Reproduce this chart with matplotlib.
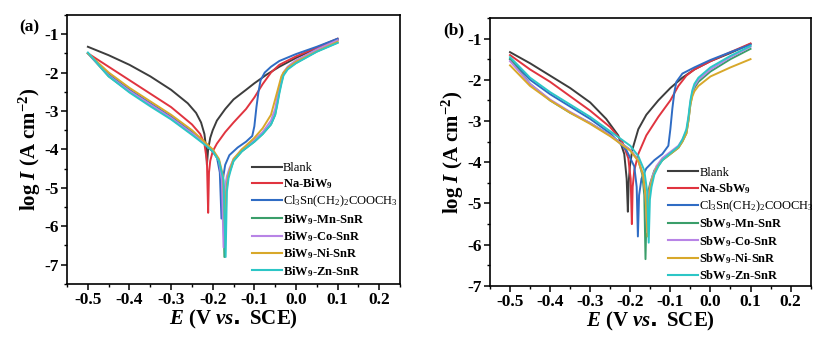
import matplotlib
matplotlib.use('Agg')
import matplotlib.pyplot as plt
from matplotlib.ticker import MultipleLocator

plt.rcParams['font.family'] = ['Liberation Serif', 'DejaVu Serif']
plt.rcParams['font.weight'] = 'bold'
plt.rcParams['mathtext.fontset'] = 'custom'
plt.rcParams['mathtext.default'] = 'regular'
plt.rcParams['mathtext.it'] = 'Liberation Serif:italic:bold'
plt.rcParams['axes.unicode_minus'] = False

# ---- data: potential E (V vs. SCE) and log I ----
# panel (a)
a_blank_E = [-0.5, -0.45, -0.4, -0.35, -0.3, -0.26, -0.24, -0.228, -0.22, -0.216, -0.214, -0.211,
             -0.206, -0.2, -0.19, -0.17, -0.15, -0.12, -0.1, -0.07, -0.04, 0.0, 0.05, 0.1]
a_blank_I = [-1.33, -1.55, -1.8, -2.1, -2.45, -2.8, -3.05, -3.3, -3.6, -3.95, -4.4, -4.0,
             -3.7, -3.5, -3.25, -2.95, -2.7, -2.45, -2.28, -2.05, -1.85, -1.62, -1.38, -1.15]

a_na_E = [-0.5, -0.45, -0.4, -0.35, -0.3, -0.25, -0.23, -0.22, -0.214, -0.211, -0.209, -0.206,
          -0.2, -0.19, -0.17, -0.15, -0.12, -0.1, -0.08, -0.06, -0.04, 0.0, 0.05, 0.1]
a_na_I = [-1.5, -1.85, -2.2, -2.55, -2.9, -3.35, -3.6, -3.85, -4.3, -5.65, -4.6, -4.3,
          -4.05, -3.85, -3.55, -3.3, -2.95, -2.65, -2.3, -2.0, -1.8, -1.58, -1.35, -1.12]

a_cl_E = [-0.5, -0.45, -0.4, -0.35, -0.3, -0.25, -0.22, -0.2, -0.19, -0.183, -0.179, -0.176,
          -0.17, -0.16, -0.14, -0.12, -0.105, -0.1, -0.095, -0.09, -0.085, -0.075, -0.06,
          -0.04, 0.0, 0.05, 0.1]
a_cl_I = [-1.5, -2.05, -2.45, -2.8, -3.15, -3.55, -3.85, -4.05, -4.2, -4.6, -5.8, -4.8,
          -4.4, -4.15, -3.95, -3.8, -3.65, -3.4, -2.9, -2.5, -2.2, -2.0, -1.85,
          -1.7, -1.52, -1.33, -1.12]

a_mn_E = [-0.5, -0.45, -0.4, -0.35, -0.3, -0.25, -0.22, -0.2, -0.185, -0.176, -0.172, -0.169,
          -0.165, -0.16, -0.15, -0.13, -0.1, -0.08, -0.06, -0.05, -0.045, -0.04, -0.035,
          -0.03, -0.02, 0.0, 0.05, 0.1]
a_mn_I = [-1.5, -2.1, -2.5, -2.85, -3.2, -3.6, -3.85, -4.05, -4.3, -4.8, -6.8, -5.2,
          -4.8, -4.6, -4.3, -4.05, -3.8, -3.6, -3.35, -3.1, -2.8, -2.5, -2.25,
          -2.05, -1.9, -1.75, -1.45, -1.22]

a_co_E = [-0.5, -0.45, -0.4, -0.35, -0.3, -0.25, -0.22, -0.2, -0.185, -0.178, -0.174, -0.171,
          -0.166, -0.16, -0.15, -0.13, -0.1, -0.08, -0.06, -0.05, -0.045, -0.04, -0.035,
          -0.03, -0.02, 0.0, 0.05, 0.1]
a_co_I = [-1.5, -2.08, -2.48, -2.83, -3.18, -3.58, -3.83, -4.03, -4.3, -4.8, -6.55, -5.0,
          -4.7, -4.5, -4.25, -4.0, -3.75, -3.55, -3.25, -2.95, -2.65, -2.4, -2.15,
          -2.0, -1.85, -1.68, -1.4, -1.16]

a_ni_E = [-0.5, -0.45, -0.4, -0.35, -0.3, -0.25, -0.22, -0.2, -0.185, -0.175, -0.17, -0.167,
          -0.163, -0.158, -0.15, -0.13, -0.1, -0.08, -0.06, -0.05, -0.04, -0.035,
          -0.03, -0.02, 0.0, 0.05, 0.1]
a_ni_I = [-1.5, -2.0, -2.4, -2.75, -3.1, -3.5, -3.8, -4.0, -4.25, -4.7, -6.3, -5.1,
          -4.7, -4.5, -4.25, -4.0, -3.7, -3.45, -3.1, -2.7, -2.3, -2.1,
          -2.0, -1.88, -1.72, -1.45, -1.2]

a_zn_E = [-0.5, -0.45, -0.4, -0.35, -0.3, -0.25, -0.22, -0.2, -0.185, -0.174, -0.169, -0.166,
          -0.162, -0.157, -0.15, -0.13, -0.1, -0.08, -0.06, -0.05, -0.045, -0.04, -0.035,
          -0.03, -0.02, 0.0, 0.05, 0.1]
a_zn_I = [-1.48, -2.1, -2.52, -2.88, -3.22, -3.62, -3.87, -4.05, -4.3, -4.8, -6.8, -5.1,
          -4.75, -4.55, -4.3, -4.05, -3.8, -3.6, -3.35, -3.1, -2.85, -2.55, -2.3,
          -2.08, -1.92, -1.76, -1.46, -1.23]

# panel (b)
b_blank_E = [-0.5, -0.45, -0.4, -0.35, -0.3, -0.26, -0.23, -0.215, -0.209, -0.206, -0.204, -0.201,
             -0.195, -0.18, -0.16, -0.13, -0.1, -0.07, -0.04, 0.0, 0.05, 0.1]
b_blank_I = [-1.33, -1.6, -1.9, -2.2, -2.55, -2.95, -3.35, -3.8, -4.4, -5.2, -4.5, -4.1,
             -3.7, -3.2, -2.85, -2.5, -2.2, -1.95, -1.75, -1.55, -1.35, -1.13]

b_na_E = [-0.5, -0.45, -0.4, -0.35, -0.3, -0.25, -0.22, -0.205, -0.199, -0.196, -0.194, -0.19,
          -0.18, -0.16, -0.13, -0.1, -0.08, -0.06, -0.04, 0.0, 0.05, 0.1]
b_na_I = [-1.4, -1.75, -2.05, -2.4, -2.75, -3.15, -3.5, -3.9, -4.4, -5.5, -4.6, -4.2,
          -3.8, -3.35, -2.9, -2.5, -2.15, -1.9, -1.75, -1.55, -1.33, -1.12]

b_cl_E = [-0.5, -0.45, -0.4, -0.35, -0.3, -0.25, -0.21, -0.19, -0.184, -0.181, -0.178, -0.172,
          -0.16, -0.14, -0.12, -0.105, -0.1, -0.095, -0.09, -0.085, -0.07, -0.04, 0.0, 0.05, 0.1]
b_cl_I = [-1.5, -2.0, -2.35, -2.65, -2.95, -3.3, -3.7, -4.1, -4.6, -5.8, -4.8, -4.4,
          -4.15, -3.95, -3.8, -3.6, -3.2, -2.7, -2.3, -2.05, -1.85, -1.7, -1.52, -1.33, -1.15]

b_mn_E = [-0.5, -0.45, -0.4, -0.35, -0.3, -0.25, -0.2, -0.18, -0.17, -0.165, -0.162, -0.159,
          -0.155, -0.15, -0.14, -0.12, -0.1, -0.08, -0.07, -0.06, -0.055, -0.05, -0.045,
          -0.04, -0.03, 0.0, 0.05, 0.1]
b_mn_I = [-1.5, -2.1, -2.5, -2.8, -3.05, -3.35, -3.7, -3.95, -4.3, -4.8, -6.35, -5.0,
          -4.7, -4.5, -4.2, -3.95, -3.8, -3.65, -3.5, -3.3, -3.0, -2.6, -2.35,
          -2.2, -2.05, -1.8, -1.5, -1.25]

b_co_E = [-0.5, -0.45, -0.4, -0.35, -0.3, -0.25, -0.2, -0.18, -0.168, -0.162, -0.158, -0.155,
          -0.151, -0.145, -0.135, -0.12, -0.1, -0.08, -0.07, -0.06, -0.055, -0.05, -0.045,
          -0.04, -0.03, 0.0, 0.05, 0.1]
b_co_I = [-1.55, -2.1, -2.48, -2.78, -3.05, -3.35, -3.7, -3.95, -4.3, -4.8, -5.7, -4.9,
          -4.6, -4.35, -4.1, -3.9, -3.75, -3.6, -3.45, -3.25, -2.95, -2.55, -2.3,
          -2.15, -2.0, -1.75, -1.45, -1.2]

b_ni_E = [-0.5, -0.45, -0.4, -0.35, -0.3, -0.25, -0.2, -0.18, -0.168, -0.162, -0.157, -0.154,
          -0.15, -0.145, -0.135, -0.12, -0.1, -0.08, -0.07, -0.06, -0.055, -0.05, -0.045,
          -0.04, -0.03, 0.0, 0.05, 0.1]
b_ni_I = [-1.65, -2.15, -2.5, -2.8, -3.07, -3.37, -3.72, -3.97, -4.3, -4.8, -5.8, -4.9,
          -4.6, -4.4, -4.15, -3.95, -3.8, -3.65, -3.5, -3.3, -3.0, -2.6, -2.4,
          -2.28, -2.15, -1.92, -1.7, -1.5]

b_zn_E = [-0.5, -0.45, -0.4, -0.35, -0.3, -0.25, -0.2, -0.18, -0.165, -0.158, -0.154, -0.151,
          -0.147, -0.14, -0.13, -0.12, -0.1, -0.08, -0.07, -0.06, -0.055, -0.05, -0.045,
          -0.04, -0.03, 0.0, 0.05, 0.1]
b_zn_I = [-1.45, -1.95, -2.3, -2.6, -2.9, -3.25, -3.6, -3.85, -4.2, -4.7, -5.95, -4.9,
          -4.6, -4.3, -4.1, -3.95, -3.78, -3.62, -3.45, -3.2, -2.9, -2.5, -2.25,
          -2.1, -1.95, -1.7, -1.42, -1.18]

colors = ['#3d3d3d', '#e0343f', '#2f6cc4', '#3a9e6a', '#b884e6', '#d8a82a', '#2cc6c6']
labels_a = ['Blank', 'Na-BiW$_9$', 'Cl$_3$Sn(CH$_2$)$_2$COOCH$_3$',
            'BiW$_9$-Mn-SnR', 'BiW$_9$-Co-SnR', 'BiW$_9$-Ni-SnR', 'BiW$_9$-Zn-SnR']
labels_b = ['Blank', 'Na-SbW$_9$', 'Cl$_3$Sn(CH$_2$)$_2$COOCH$_3$',
            'SbW$_9$-Mn-SnR', 'SbW$_9$-Co-SnR', 'SbW$_9$-Ni-SnR', 'SbW$_9$-Zn-SnR']

curves_a = [(a_blank_E, a_blank_I), (a_na_E, a_na_I), (a_cl_E, a_cl_I), (a_mn_E, a_mn_I),
            (a_co_E, a_co_I), (a_ni_E, a_ni_I), (a_zn_E, a_zn_I)]
curves_b = [(b_blank_E, b_blank_I), (b_na_E, b_na_I), (b_cl_E, b_cl_I), (b_mn_E, b_mn_I),
            (b_co_E, b_co_I), (b_ni_E, b_ni_I), (b_zn_E, b_zn_I)]

fig = plt.figure(figsize=(8.18, 3.38), dpi=100)
ax_a = fig.add_axes([0.082, 0.160, 0.407, 0.796])
ax_b = fig.add_axes([0.599, 0.154, 0.392, 0.793])


def draw_panel(ax, curves, labels, ylim, tag, leg_anchor):
    for (E, I), c, lab in zip(curves, colors, labels):
        ax.plot(E, I, color=c, linewidth=1.4, label=lab)
    ax.set_xlim(-0.55, 0.25)
    ax.set_ylim(*ylim)
    ax.xaxis.set_major_locator(MultipleLocator(0.1))
    ax.xaxis.set_minor_locator(MultipleLocator(0.05))
    ax.yaxis.set_major_locator(MultipleLocator(1))
    ax.yaxis.set_minor_locator(MultipleLocator(0.5))
    ax.xaxis.set_major_formatter(plt.FuncFormatter(lambda v, p: '%.1f' % v if abs(v) > 1e-9 else '0.0'))
    ax.tick_params(which='major', direction='out', length=4, width=1.1, labelsize=12.5,
                   top=False, right=False, pad=2)
    ax.tick_params(which='minor', direction='out', length=2.5, width=1.0, top=False, right=False)
    for s in ax.spines.values():
        s.set_linewidth(1.2)
    ax.set_xlabel(r'$\mathit{E}$ (V $\mathit{vs.}$ SCE)', fontsize=15, fontweight='bold', labelpad=0)
    ax.set_ylabel(r'log $\mathit{I}$ (A cm$^{-2}$)', fontsize=15, fontweight='bold', labelpad=1)
    ax.text(-0.145, 0.955, tag, transform=ax.transAxes, fontsize=12.5, fontweight='bold',
            ha='left', va='center')
    leg = ax.legend(loc='lower left', bbox_to_anchor=leg_anchor, frameon=False, fontsize=9,
                    handlelength=2.4, handletextpad=0.1, labelspacing=0.2, borderaxespad=0,
                    borderpad=0)
    for i, t in enumerate(leg.get_texts()):
        t.set_fontweight('normal' if i in (0, 2) else 'bold')
    for ln in leg.get_lines():
        ln.set_linewidth(1.5)


draw_panel(ax_a, curves_a, labels_a, (-7.5, -0.5), '(a)', (0.555, 0.02))
draw_panel(ax_b, curves_b, labels_b, (-7.0, -0.5), '(b)', (0.555, 0.01))

fig.savefig('out.png', dpi=100)
